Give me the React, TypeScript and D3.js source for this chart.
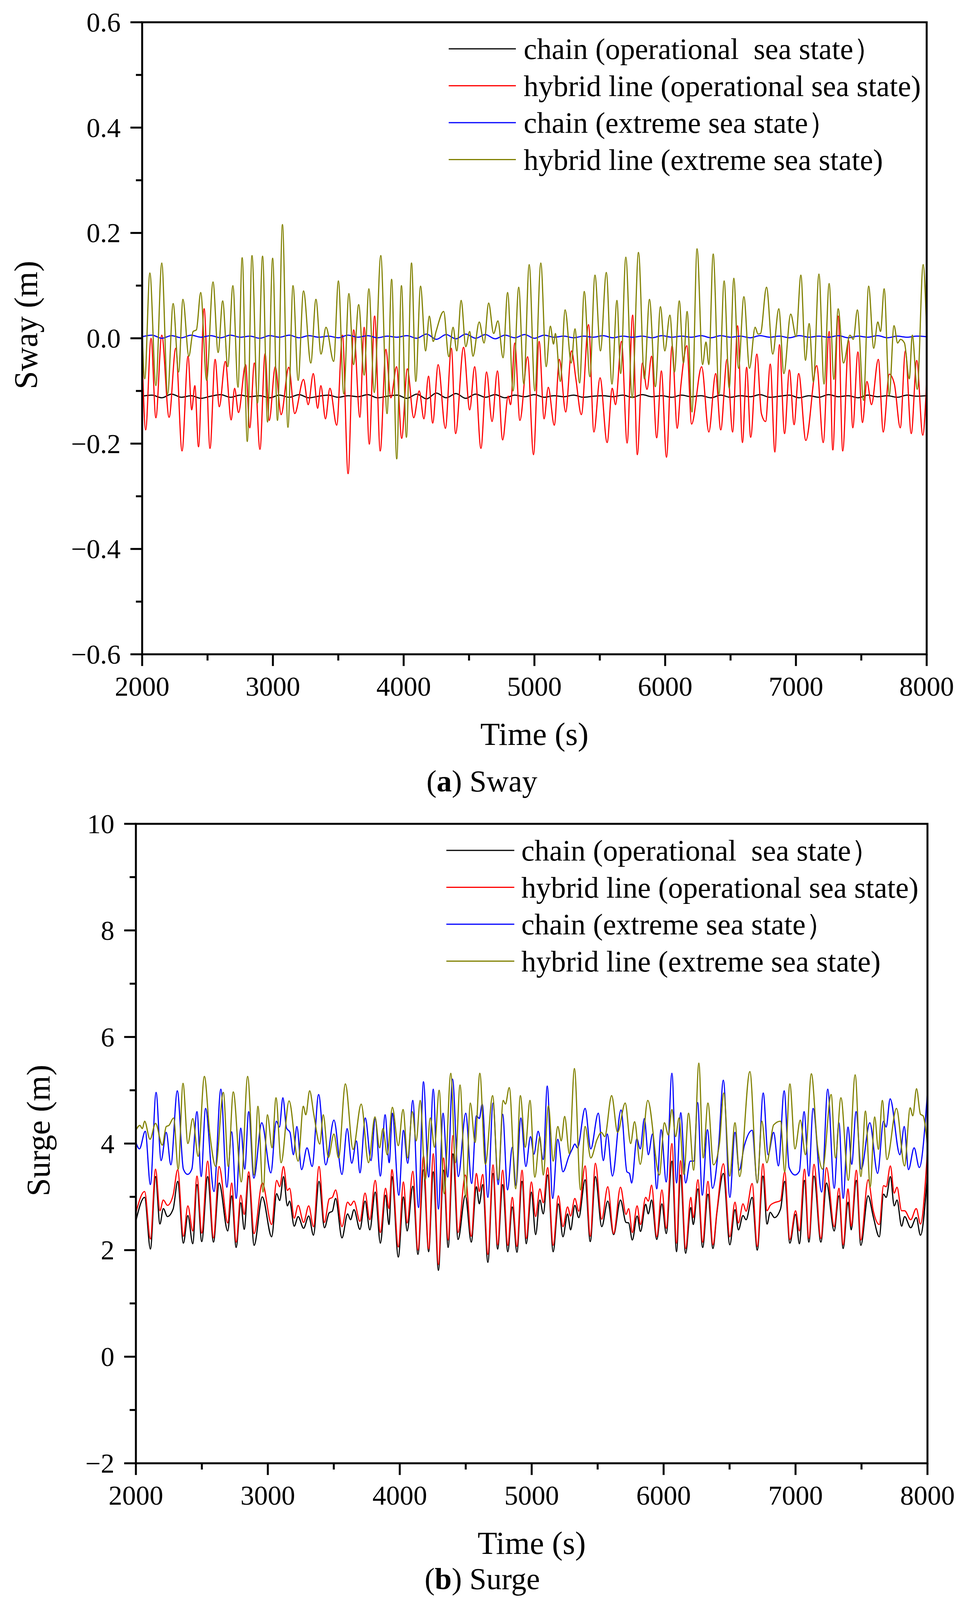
import * as d3 from "d3"

// ---------- data ----------
const timeTicks = [2000, 3000, 4000, 5000, 6000, 7000, 8000]
const timeMinor = [2500, 3500, 4500, 5500, 6500, 7500]

const seriesNames = [
  "chain (operational  sea state）",
  "hybrid line (operational sea state)",
  "chain (extreme sea state）",
  "hybrid line (extreme sea state)",
]
const seriesColors = ["#000000", "#ff0000", "#0000ff", "#808000"]

// sway: the two chain traces are sampled on a regular grid
const swayChainTime = d3.range(2000, 8001, 75)
const swayChainOp = [
  -0.110, -0.108, -0.113, -0.106, -0.112, -0.109, -0.114, -0.110, -0.107, -0.112, -0.108, -0.111, -0.109, -0.113,
  -0.108, -0.112, -0.107, -0.113, -0.110, -0.108, -0.112, -0.109, -0.111, -0.107, -0.113, -0.110, -0.108, -0.114,
  -0.106, -0.115, -0.104, -0.113, -0.105, -0.114, -0.106, -0.112, -0.107, -0.113, -0.108, -0.111, -0.107, -0.112,
  -0.109, -0.111, -0.108, -0.112, -0.110, -0.109, -0.111, -0.108, -0.112, -0.107, -0.111, -0.109, -0.112, -0.108,
  -0.111, -0.109, -0.113, -0.108, -0.112, -0.109, -0.111, -0.107, -0.112, -0.110, -0.108, -0.113, -0.109, -0.112,
  -0.107, -0.111, -0.109, -0.113, -0.108, -0.111, -0.109, -0.112, -0.108, -0.110, -0.109,
]
const swayChainExt = [
  0.003, 0.006, 0.000, 0.005, 0.001, 0.006, 0.002, 0.005, 0.001, 0.006, 0.002, 0.004, 0.000, 0.005,
  0.002, 0.006, 0.001, 0.005, 0.002, 0.004, 0.001, 0.006, 0.002, 0.005, 0.001, 0.004, 0.002, 0.005,
  0.000, 0.008, -0.002, 0.007, -0.001, 0.008, 0.000, 0.007, -0.001, 0.006, 0.001, 0.007, 0.000, 0.006,
  0.002, 0.004, 0.001, 0.004, 0.002, 0.005, 0.001, 0.004, 0.002, 0.004, 0.001, 0.005, 0.002, 0.004,
  0.002, 0.005, 0.001, 0.005, 0.002, 0.004, 0.001, 0.005, 0.002, 0.004, 0.001, 0.005, 0.002, 0.004,
  0.002, 0.005, 0.001, 0.004, 0.002, 0.005, 0.001, 0.004, 0.002, 0.004, 0.003,
]

// sway: hybrid line traces, [time, value] at peaks and troughs
const swayHybridOp = [
  [2000,-0.030],[2027,-0.174],[2068,0.000],[2105,-0.151],[2150,0.006],[2206,-0.150],[2257,-0.019],[2305,-0.214],
  [2351,-0.034],[2379,-0.136],[2403,-0.090],[2431,-0.206],[2474,0.056],[2519,-0.209],[2558,-0.040],[2590,-0.130],
  [2636,-0.044],[2681,-0.155],[2707,-0.095],[2737,-0.141],[2791,-0.050],[2823,-0.170],[2858,-0.047],[2901,-0.211],
  [2940,-0.029],[2972,-0.156],[3018,-0.054],[3063,-0.145],[3121,-0.055],[3167,-0.143],[3234,-0.078],[3270,-0.126],
  [3309,-0.067],[3342,-0.133],[3367,-0.090],[3402,-0.153],[3436,-0.095],[3488,-0.165],[3532,0.006],[3575,-0.257],
  [3618,0.016],[3665,-0.150],[3698,0.021],[3737,-0.201],[3778,0.042],[3821,-0.214],[3864,-0.021],[3902,-0.113],
  [3946,-0.054],[3985,-0.190],[4028,-0.058],[4077,-0.151],[4119,-0.100],[4155,-0.153],[4190,-0.072],[4222,-0.161],
  [4264,-0.050],[4319,-0.171],[4365,-0.019],[4397,-0.181],[4458,-0.017],[4505,-0.136],[4543,-0.054],[4591,-0.209],
  [4634,-0.064],[4676,-0.158],[4717,-0.062],[4757,-0.193],[4799,-0.110],[4818,-0.126],[4850,-0.009],[4889,-0.156],
  [4948,-0.035],[4993,-0.221],[5036,-0.006],[5074,-0.153],[5106,-0.093],[5152,-0.165],[5191,-0.040],[5239,-0.140],
  [5284,-0.024],[5317,-0.077],[5359,-0.145],[5414,0.026],[5455,-0.178],[5502,-0.075],[5556,-0.198],[5595,-0.095],
  [5620,-0.126],[5666,-0.006],[5709,-0.199],[5751,0.044],[5787,-0.221],[5826,-0.047],[5861,-0.097],[5896,-0.034],
  [5935,-0.189],[5971,-0.062],[6010,-0.226],[6053,-0.014],[6092,-0.171],[6120,-0.090],[6166,-0.014],[6202,-0.163],
  [6279,-0.054],[6334,-0.178],[6386,-0.067],[6425,-0.174],[6473,-0.040],[6516,-0.178],[6554,0.024],[6591,-0.198],
  [6623,-0.055],[6654,-0.188],[6701,-0.030],[6736,-0.143],[6768,-0.158],[6804,-0.049],[6839,-0.216],[6874,-0.012],
  [6913,-0.181],[6950,-0.060],[6986,-0.164],[7021,-0.067],[7076,-0.194],[7159,-0.052],[7209,-0.198],[7254,0.013],
  [7282,-0.212],[7323,0.042],[7358,-0.214],[7403,-0.004],[7435,-0.170],[7474,-0.026],[7509,-0.160],[7543,-0.082],
  [7578,-0.126],[7630,-0.040],[7668,-0.178],[7714,-0.068],[7753,-0.087],[7798,-0.170],[7837,-0.024],[7882,-0.181],
  [7924,-0.042],[7970,-0.184],[8000,-0.080],
]
const swayHybridExt = [
  [2000,0.016],[2020,-0.077],[2059,0.124],[2105,-0.090],[2150,0.143],[2195,-0.106],[2237,0.066],[2279,-0.064],
  [2312,0.074],[2357,-0.034],[2390,0.013],[2415,0.016],[2448,0.087],[2493,-0.080],[2542,0.107],[2581,-0.027],
  [2616,0.071],[2655,-0.054],[2694,0.100],[2733,-0.093],[2765,0.153],[2804,-0.196],[2840,0.157],[2882,-0.123],
  [2921,0.156],[2959,-0.159],[2998,0.152],[3035,-0.156],[3073,0.216],[3115,-0.169],[3154,0.100],[3193,-0.080],
  [3234,0.090],[3290,-0.047],[3329,0.074],[3368,-0.030],[3406,0.021],[3465,-0.044],[3501,0.109],[3542,-0.106],
  [3581,0.085],[3617,-0.050],[3656,0.064],[3698,-0.070],[3734,0.094],[3775,-0.103],[3825,0.157],[3873,-0.143],
  [3908,0.112],[3947,-0.229],[3983,0.100],[4021,-0.188],[4060,0.143],[4093,-0.082],[4129,0.099],[4168,-0.024],
  [4196,0.042],[4226,-0.006],[4248,0.013],[4306,0.051],[4345,-0.035],[4378,0.021],[4406,-0.024],[4440,0.072],
  [4475,-0.016],[4505,0.013],[4530,-0.034],[4578,0.031],[4615,-0.009],[4650,0.067],[4688,0.009],[4721,0.033],
  [4760,-0.037],[4795,0.087],[4837,-0.100],[4880,0.097],[4919,-0.087],[4960,0.140],[5003,-0.100],[5049,0.143],
  [5090,-0.054],[5122,0.023],[5146,-0.011],[5161,0.009],[5198,-0.082],[5235,0.054],[5282,-0.047],[5310,0.018],
  [5346,-0.085],[5381,0.089],[5424,-0.073],[5463,0.120],[5505,-0.024],[5550,0.125],[5593,-0.087],[5631,0.072],
  [5660,-0.067],[5699,0.154],[5748,-0.113],[5796,0.163],[5841,-0.077],[5880,0.074],[5925,-0.092],[5964,0.060],
  [5997,-0.024],[6036,0.044],[6071,-0.064],[6108,0.071],[6140,-0.047],[6168,0.051],[6205,-0.140],[6244,0.170],
  [6286,-0.050],[6312,-0.007],[6334,-0.050],[6367,0.160],[6412,-0.106],[6451,0.109],[6490,-0.095],[6525,0.114],
  [6561,-0.057],[6602,0.079],[6645,-0.057],[6688,0.021],[6710,0.008],[6729,0.009],[6775,0.097],[6823,-0.030],
  [6869,0.056],[6908,-0.067],[6960,0.046],[7001,0.003],[7038,0.120],[7073,-0.042],[7101,0.028],[7134,-0.083],
  [7176,0.122],[7215,-0.087],[7254,0.104],[7290,-0.078],[7323,0.056],[7364,-0.047],[7413,0.006],[7439,-0.002],
  [7470,0.054],[7517,-0.118],[7556,0.099],[7595,-0.019],[7626,0.031],[7647,0.013],[7675,0.094],[7714,-0.108],
  [7750,0.024],[7778,-0.009],[7800,-0.002],[7830,-0.009],[7867,-0.077],[7890,0.006],[7928,-0.097],[7973,0.140],
  [8000,0.009],
]

// surge, [time, value]
const surgeChainOp = [
  [2000,2.55],[2066,2.99],[2110,2.02],[2149,3.38],[2182,2.49],[2208,2.78],[2239,2.63],[2282,2.77],[2317,3.29],
  [2360,2.13],[2394,2.65],[2431,2.12],[2463,3.23],[2499,2.16],[2544,3.38],[2588,2.15],[2631,3.26],[2696,2.36],
  [2726,3.02],[2760,2.05],[2795,2.89],[2821,2.39],[2855,3.39],[2896,2.09],[2958,3.00],[3029,2.25],[3067,3.06],
  [3090,2.93],[3119,3.38],[3148,2.83],[3165,2.92],[3200,2.45],[3230,2.63],[3271,2.41],[3310,2.64],[3346,2.28],
  [3388,3.29],[3429,2.42],[3465,2.70],[3489,2.73],[3514,2.97],[3562,2.23],[3605,2.68],[3627,2.57],[3653,2.76],
  [3698,2.39],[3737,2.92],[3773,2.38],[3814,3.09],[3853,2.13],[3892,3.03],[3918,2.48],[3941,3.38],[3989,1.87],
  [4028,3.00],[4056,2.36],[4099,3.20],[4138,1.92],[4180,3.51],[4219,1.97],[4254,3.47],[4293,1.62],[4332,3.50],
  [4367,2.05],[4403,3.81],[4442,2.20],[4497,3.03],[4542,2.15],[4581,3.19],[4603,2.87],[4629,3.23],[4668,1.77],
  [4707,3.44],[4742,2.02],[4780,3.23],[4819,1.97],[4853,2.81],[4888,1.96],[4927,3.29],[4959,2.12],[4998,3.09],
  [5030,2.29],[5062,2.94],[5088,2.68],[5121,3.41],[5163,1.97],[5202,2.87],[5237,2.25],[5272,2.68],[5295,2.38],
  [5327,2.84],[5357,2.61],[5405,3.32],[5444,2.16],[5483,3.38],[5531,2.44],[5577,2.92],[5621,2.29],[5673,2.94],
  [5715,2.52],[5735,2.51],[5763,2.19],[5799,2.64],[5825,2.35],[5864,2.86],[5884,2.68],[5909,2.94],[5948,2.20],
  [5987,2.87],[6020,2.31],[6063,3.67],[6098,1.97],[6128,3.41],[6167,1.94],[6206,2.80],[6225,2.48],[6260,3.15],
  [6296,2.05],[6336,3.05],[6374,2.03],[6404,2.70],[6453,3.44],[6502,2.10],[6541,2.76],[6567,2.38],[6602,2.65],
  [6625,2.57],[6671,2.99],[6710,2.00],[6753,3.39],[6784,2.49],[6808,2.71],[6840,2.61],[6886,2.77],[6918,3.29],
  [6957,2.13],[7000,2.67],[7029,2.12],[7068,3.31],[7101,2.15],[7140,3.39],[7192,2.15],[7235,3.26],[7293,2.36],
  [7329,3.02],[7361,2.03],[7398,2.90],[7422,2.38],[7461,3.31],[7495,2.09],[7550,3.02],[7589,2.63],[7635,2.25],
  [7667,3.05],[7687,2.99],[7719,3.38],[7748,2.83],[7769,2.94],[7804,2.45],[7827,2.63],[7873,2.42],[7915,2.61],
  [7947,2.28],[8000,3.44],
]
const surgeHybridOp = [
  [2000,2.70],[2066,3.10],[2110,2.21],[2149,3.52],[2182,2.74],[2208,2.94],[2239,2.84],[2282,3.03],[2317,3.51],
  [2360,2.26],[2394,2.83],[2431,2.36],[2463,3.39],[2499,2.32],[2544,3.67],[2588,2.23],[2631,3.57],[2696,2.51],
  [2726,3.26],[2760,2.15],[2795,3.03],[2821,2.67],[2855,3.47],[2896,2.31],[2958,3.26],[3029,2.48],[3067,3.31],
  [3090,3.19],[3119,3.57],[3148,3.12],[3165,3.16],[3200,2.60],[3230,2.84],[3271,2.52],[3310,2.83],[3346,2.44],
  [3388,3.57],[3429,2.52],[3465,2.96],[3489,2.99],[3514,3.13],[3562,2.44],[3605,2.90],[3627,2.84],[3653,2.92],
  [3698,2.54],[3737,3.07],[3773,2.57],[3814,3.31],[3853,2.33],[3892,3.16],[3918,2.78],[3941,3.51],[3989,2.06],
  [4028,3.28],[4056,2.51],[4099,3.48],[4138,2.00],[4180,3.77],[4219,2.02],[4254,3.81],[4293,1.73],[4332,3.73],
  [4367,2.19],[4403,4.15],[4442,2.33],[4497,3.41],[4542,2.26],[4581,3.44],[4603,3.10],[4629,3.42],[4668,1.92],
  [4707,3.60],[4742,2.10],[4780,3.50],[4819,2.09],[4853,2.99],[4888,2.07],[4927,3.50],[4959,2.22],[4998,3.28],
  [5030,2.63],[5062,3.15],[5088,2.89],[5121,3.55],[5163,2.09],[5202,3.02],[5237,2.44],[5272,2.81],[5295,2.64],
  [5327,2.97],[5357,2.73],[5405,3.58],[5444,2.26],[5483,3.63],[5531,2.58],[5577,3.19],[5621,2.31],[5673,3.18],
  [5715,2.67],[5735,2.78],[5763,2.33],[5799,2.83],[5825,2.48],[5864,2.99],[5884,2.92],[5909,3.22],[5948,2.25],
  [5987,3.13],[6020,2.41],[6063,4.00],[6098,2.13],[6128,3.68],[6167,2.03],[6206,2.99],[6225,2.61],[6260,3.32],
  [6296,2.15],[6336,3.29],[6374,2.10],[6404,2.73],[6453,3.62],[6502,2.25],[6541,2.90],[6567,2.51],[6602,2.87],
  [6625,2.73],[6671,3.25],[6710,2.07],[6753,3.62],[6784,2.74],[6808,2.84],[6840,2.89],[6886,2.93],[6918,3.47],
  [6957,2.20],[7000,2.74],[7029,2.36],[7068,3.52],[7101,2.22],[7140,3.61],[7192,2.22],[7235,3.55],[7293,2.44],
  [7329,3.16],[7361,2.10],[7398,3.15],[7422,2.45],[7461,3.50],[7495,2.19],[7550,3.32],[7589,2.74],[7635,2.48],
  [7667,3.21],[7687,3.19],[7719,3.58],[7748,3.07],[7769,3.18],[7804,2.74],[7827,2.74],[7873,2.57],[7915,2.78],
  [7947,2.49],[8000,3.87],
]
const surgeChainExt = [
  [2000,4.02],[2027,3.90],[2071,4.23],[2110,3.23],[2153,4.96],[2191,3.68],[2230,4.21],[2265,3.60],[2314,4.99],
  [2360,3.52],[2392,3.42],[2424,3.52],[2463,4.60],[2495,3.38],[2528,4.66],[2592,3.10],[2644,5.02],[2689,3.18],
  [2726,4.22],[2760,2.97],[2795,4.29],[2825,3.52],[2855,4.60],[2894,3.35],[2954,4.39],[3023,3.45],[3064,4.42],
  [3088,4.31],[3114,4.86],[3142,4.29],[3168,4.21],[3194,3.79],[3220,4.32],[3256,3.51],[3297,3.92],[3336,3.57],
  [3385,4.92],[3439,3.60],[3501,4.44],[3562,3.42],[3601,4.28],[3636,3.63],[3672,4.05],[3698,3.45],[3739,4.48],
  [3782,3.68],[3814,4.47],[3853,3.39],[3889,4.54],[3920,3.64],[3944,4.57],[3993,3.03],[4028,4.25],[4060,3.63],
  [4099,4.81],[4142,2.80],[4180,5.16],[4219,3.37],[4254,5.02],[4293,2.77],[4328,4.57],[4364,3.37],[4400,5.21],
  [4444,3.38],[4500,4.57],[4545,3.25],[4581,4.52],[4603,4.47],[4625,4.74],[4668,2.99],[4707,4.76],[4746,3.23],
  [4780,4.55],[4817,3.13],[4853,3.93],[4881,3.21],[4918,4.48],[4956,3.57],[4991,4.13],[5017,3.80],[5049,4.23],
  [5088,3.70],[5118,5.08],[5159,2.97],[5198,4.08],[5237,3.47],[5282,3.76],[5308,3.90],[5327,3.99],[5347,3.92],
  [5405,4.66],[5448,3.90],[5505,4.57],[5543,3.68],[5573,4.18],[5612,3.39],[5677,4.63],[5722,3.47],[5741,3.44],
  [5758,3.26],[5797,4.09],[5823,3.90],[5854,4.47],[5884,3.79],[5916,4.18],[5948,3.15],[5981,4.26],[6020,3.28],
  [6063,5.32],[6098,3.26],[6130,4.58],[6167,3.26],[6202,3.67],[6228,3.67],[6258,4.77],[6293,3.03],[6332,4.26],
  [6371,3.16],[6417,3.96],[6453,5.19],[6502,2.99],[6541,4.21],[6573,3.50],[6612,3.96],[6671,4.25],[6710,3.26],
  [6755,4.95],[6792,3.79],[6834,4.21],[6870,3.58],[6914,4.99],[6951,3.55],[6996,3.41],[7029,3.48],[7065,4.60],
  [7101,3.39],[7133,4.66],[7198,3.09],[7244,5.02],[7293,3.16],[7329,4.39],[7361,2.97],[7398,4.31],[7426,3.61],
  [7459,4.60],[7498,3.52],[7563,4.39],[7622,3.44],[7667,4.42],[7687,4.31],[7717,4.84],[7791,3.79],[7824,4.32],
  [7856,3.51],[7899,3.92],[7938,3.55],[8000,4.96],
]
const surgeHybridExt = [
  [2000,4.25],[2030,4.34],[2049,4.28],[2066,4.42],[2107,4.08],[2149,4.38],[2200,3.97],[2230,4.32],[2250,4.34],
  [2286,4.48],[2321,3.52],[2357,5.13],[2394,4.00],[2431,4.47],[2472,3.76],[2519,5.26],[2560,4.19],[2605,3.57],
  [2663,4.96],[2700,3.57],[2738,4.97],[2799,3.28],[2847,5.26],[2896,3.41],[2925,4.70],[2964,3.09],[2997,4.54],
  [3032,3.92],[3062,4.86],[3101,3.64],[3161,4.80],[3230,3.67],[3269,4.70],[3288,4.54],[3317,4.99],[3349,4.54],
  [3394,3.99],[3420,4.54],[3459,3.74],[3501,4.18],[3536,3.73],[3588,5.12],[3646,3.89],[3708,4.74],[3763,3.64],
  [3812,4.50],[3847,3.92],[3873,4.28],[3905,3.79],[3944,4.68],[3989,3.96],[4025,4.64],[4060,3.73],[4095,4.60],
  [4125,4.05],[4155,4.81],[4193,3.32],[4232,4.48],[4263,3.93],[4299,5.00],[4336,3.06],[4387,5.32],[4422,3.64],
  [4457,5.10],[4500,2.99],[4535,4.76],[4571,4.02],[4607,5.32],[4649,3.61],[4704,4.90],[4746,3.32],[4784,4.81],
  [4801,4.74],[4830,5.05],[4879,3.15],[4914,4.90],[4952,3.93],[4987,4.81],[5024,3.37],[5062,4.13],[5088,3.41],
  [5127,4.71],[5163,3.67],[5198,4.32],[5224,4.05],[5250,4.51],[5286,3.81],[5324,5.41],[5370,3.13],[5405,4.32],
  [5448,3.73],[5496,4.08],[5528,4.21],[5554,4.13],[5606,4.90],[5651,4.21],[5709,4.76],[5750,4.00],[5780,4.41],
  [5823,3.61],[5880,4.81],[5968,3.41],[6006,4.39],[6036,4.16],[6063,4.64],[6091,4.13],[6117,4.48],[6154,3.42],
  [6189,4.57],[6228,3.50],[6267,5.51],[6300,3.73],[6336,4.76],[6378,3.60],[6423,3.99],[6456,4.95],[6501,3.39],
  [6541,4.39],[6576,3.38],[6654,5.35],[6710,3.26],[6745,4.42],[6782,3.64],[6834,4.35],[6886,4.42],[6918,3.47],
  [6957,5.12],[6996,3.90],[7036,4.44],[7075,3.79],[7120,5.31],[7166,3.96],[7205,3.52],[7270,4.92],[7303,3.73],
  [7344,4.86],[7400,3.31],[7452,5.29],[7495,3.38],[7530,4.61],[7566,3.19],[7600,4.50],[7628,3.89],[7658,4.81],
  [7693,3.70],[7765,4.66],[7826,3.58],[7869,4.67],[7889,4.52],[7917,5.03],[7947,4.55],[7967,4.52],[8000,3.96],
]

const swayTicks = [-0.6, -0.4, -0.2, 0, 0.2, 0.4, 0.6]
const swayMinor = [-0.5, -0.3, -0.1, 0.1, 0.3, 0.5]
const surgeTicks = [-2, 0, 2, 4, 6, 8, 10]
const surgeMinor = [-1, 1, 3, 5, 7, 9]

const FONT = "'Liberation Serif', 'Times New Roman', serif"

function Panel({ box, yDomain, yTicks, yMinor, yFormat, yLabel, yLabelPos, series, legend, caption, letter, id }) {
  const x = d3.scaleLinear().domain([2000, 8000]).range([box.left, box.right])
  const y = d3.scaleLinear().domain(yDomain).range([box.bottom, box.top])
  const line = d3
    .line()
    .x((d) => x(d[0]))
    .y((d) => y(d[1]))
    .curve(d3.curveMonotoneX)

  const midX = (box.left + box.right) / 2

  return (
    <g>
      <defs>
        <clipPath id={id}>
          <rect x={box.left} y={box.top} width={box.right - box.left} height={box.bottom - box.top} />
        </clipPath>
      </defs>

      {/* traces */}
      <g clipPath={`url(#${id})`}>
        {series.map((s, i) => (
          <path key={i} d={line(s)} fill="none" stroke={seriesColors[i]} strokeWidth={3} strokeLinejoin="round" />
        ))}
      </g>

      {/* frame */}
      <rect
        x={box.left}
        y={box.top}
        width={box.right - box.left}
        height={box.bottom - box.top}
        fill="none"
        stroke="#000"
        strokeWidth={5}
      />

      {/* y ticks */}
      {yTicks.map((t) => (
        <g key={"y" + t}>
          <line x1={box.left - 30} x2={box.left} y1={y(t)} y2={y(t)} stroke="#000" strokeWidth={5} />
          <text x={box.left - 55} y={y(t) + 24} textAnchor="end" fontSize={70} fontFamily={FONT}>
            {yFormat(t)}
          </text>
        </g>
      ))}
      {yMinor.map((t) => (
        <line key={"ym" + t} x1={box.left - 16} x2={box.left} y1={y(t)} y2={y(t)} stroke="#000" strokeWidth={5} />
      ))}

      {/* x ticks */}
      {timeTicks.map((t) => (
        <g key={"x" + t}>
          <line x1={x(t)} x2={x(t)} y1={box.bottom} y2={box.bottom + 30} stroke="#000" strokeWidth={5} />
          <text x={x(t)} y={box.bottom + 106} textAnchor="middle" fontSize={70} fontFamily={FONT}>
            {t}
          </text>
        </g>
      ))}
      {timeMinor.map((t) => (
        <line key={"xm" + t} x1={x(t)} x2={x(t)} y1={box.bottom} y2={box.bottom + 16} stroke="#000" strokeWidth={5} />
      ))}

      {/* legend */}
      {seriesNames.map((name, i) => {
        const ly = box.top + 68 + i * 94.5
        return (
          <g key={name}>
            <line x1={legend.x1} x2={legend.x2} y1={ly} y2={ly} stroke={seriesColors[i]} strokeWidth={3} />
            <text
              x={legend.tx}
              y={ly + 26}
              fontSize={76}
              fontFamily={FONT}
              style={{ whiteSpace: "pre" }}
            >
              {name}
            </text>
          </g>
        )
      })}

      {/* axis titles */}
      <text
        transform={`translate(${yLabelPos[0]},${yLabelPos[1]}) rotate(-90)`}
        textAnchor="middle"
        fontSize={84}
        fontFamily={FONT}
      >
        {yLabel}
      </text>
      <text x={midX} y={box.bottom + 232} textAnchor="middle" fontSize={82} fontFamily={FONT}>
        Time (s)
      </text>

      {/* caption */}
      <text x={caption[0]} y={caption[1]} textAnchor="middle" fontSize={78} fontFamily={FONT}>
        (<tspan fontWeight="bold">{letter}</tspan>) {yLabel.split(" ")[0]}
      </text>
    </g>
  )
}

export default function App() {
  const swayOp = swayChainTime.map((t, i) => [t, swayChainOp[i]])
  const swayExt = swayChainTime.map((t, i) => [t, swayChainExt[i]])
  const fmtA = d3.format(".1f")
  const fmtB = d3.format("d")

  return (
    <svg
      width={2466}
      height={4136}
      style={{ position: "absolute", left: 0, top: 0, background: "#fff" }}
    >
      <rect width={2466} height={4136} fill="#fff" />
      <Panel
        id="clipA"
        box={{ left: 364, right: 2373, top: 57, bottom: 1675 }}
        yDomain={[-0.6, 0.6]}
        yTicks={swayTicks}
        yMinor={swayMinor}
        yFormat={fmtA}
        yLabel="Sway (m)"
        yLabelPos={[95, 832]}
        series={[swayOp, swayHybridOp, swayExt, swayHybridExt]}
        legend={{ x1: 1149, x2: 1321, tx: 1341 }}
        caption={[1234, 2026]}
        letter="a"
      />
      <Panel
        id="clipB"
        box={{ left: 348, right: 2375, top: 2109, bottom: 3746 }}
        yDomain={[-2, 10]}
        yTicks={surgeTicks}
        yMinor={surgeMinor}
        yFormat={fmtB}
        yLabel="Surge (m)"
        yLabelPos={[127, 2894]}
        series={[surgeChainOp, surgeHybridOp, surgeChainExt, surgeHybridExt]}
        legend={{ x1: 1143, x2: 1317, tx: 1335 }}
        caption={[1235, 4068]}
        letter="b"
      />
    </svg>
  )
}
